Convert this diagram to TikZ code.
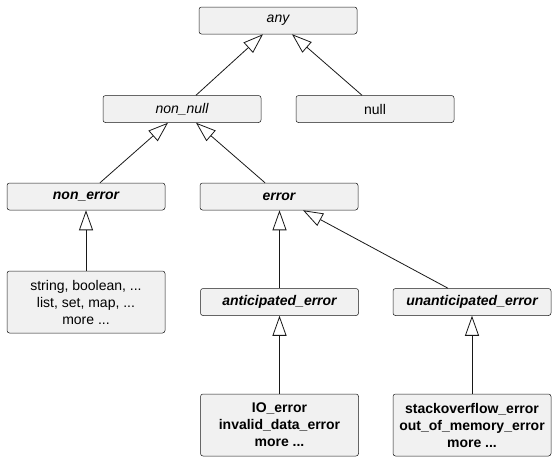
\documentclass[tikz,border=0pt]{standalone}
\usepackage{fontspec}
\setmainfont{Liberation Sans}
\usetikzlibrary{arrows.meta}
\definecolor{boxfill}{HTML}{F1F1F1}
\definecolor{lineclr}{HTML}{181818}
\tikzset{
  cls/.style={draw=lineclr, line width=0.5pt, fill=boxfill, rounded corners=2.5pt,
    minimum width=158pt, minimum height=27pt, inner sep=0pt, align=center,
    font=\fontsize{14}{17}\selectfont},
  tall/.style={minimum height=62pt},
  ext/.style={draw=lineclr, line width=0.8pt, -{Triangle[length=20pt,width=14pt,fill=white]}}
}
\begin{document}
\begin{tikzpicture}[x=1pt,y=-1pt]
\useasboundingbox (0,0) rectangle (557,461);
\node[cls] (any) at (278,20.5) {\itshape any};
\node[cls] (nn) at (182,109) {\itshape non\_null};
\node[cls] (null) at (375,109) {null};
\node[cls] (ne) at (86,196.5) {\bfseries\itshape non\_error};
\node[cls] (err) at (279,196.5) {\bfseries\itshape error};
\node[cls,tall] (str) at (86,302) {string, boolean, ...\\list, set, map, ...\\more ...};
\node[cls] (ant) at (279.5,302) {\bfseries\itshape anticipated\_error};
\node[cls] (unant) at (472,302) {\bfseries\itshape unanticipated\_error};
\node[cls,tall] (io) at (279.5,425) {\bfseries IO\_error\\\bfseries invalid\_data\_error\\\bfseries more ...};
\node[cls,tall] (so) at (472,425) {\bfseries stackoverflow\_error\\\bfseries out\_of\_memory\_error\\\bfseries more ...};
\draw[ext] ([xshift=14pt]nn.north) -- ([xshift=-15pt]any.south);
\draw[ext] ([xshift=-13pt]null.north) -- ([xshift=14pt]any.south);
\draw[ext] ([xshift=14pt]ne.north) -- ([xshift=-14pt]nn.south);
\draw[ext] ([xshift=-14pt]err.north) -- ([xshift=14pt]nn.south);
\draw[ext] (str.north) -- (ne.south);
\draw[ext] (ant.north) -- (ant.north |- err.south);
\draw[ext] ([xshift=-24pt]unant.north) -- ([xshift=24pt]err.south);
\draw[ext] (io.north) -- (ant.south);
\draw[ext] (so.north) -- (unant.south);
\end{tikzpicture}
\end{document}
